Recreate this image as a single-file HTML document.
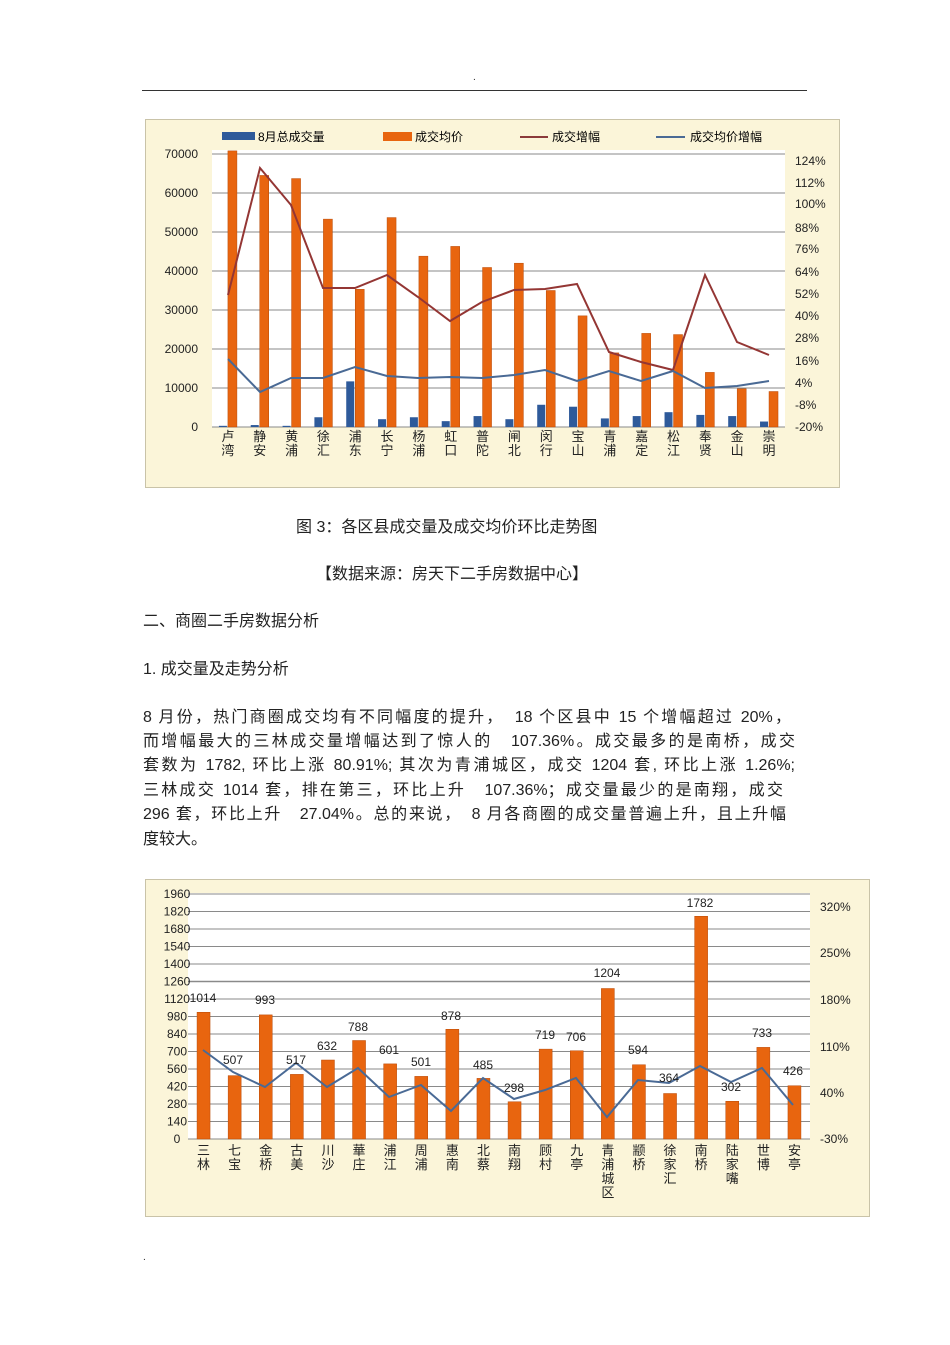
<!DOCTYPE html>
<html><head><meta charset="utf-8"><style>
body{margin:0;background:#fff;}
#p{position:relative;width:950px;height:1345px;overflow:hidden;font-family:"Liberation Sans","Noto Sans CJK SC",sans-serif;color:#222;}
.t{position:absolute;font-size:16px;white-space:nowrap;}
.j{position:absolute;left:143px;width:648px;font-size:16px;text-align:justify;text-align-last:justify;white-space:nowrap;}
svg text{font-family:"Liberation Sans","Noto Sans CJK SC",sans-serif;}
</style></head><body><div id="p">
<div class="t" style="left:473px;top:72px;font-size:10px">.</div>
<div style="position:absolute;left:142px;top:90px;width:665px;height:1px;background:#333"></div>

<svg style="position:absolute;left:0;top:0" width="950" height="1345">
<rect x="145.5" y="119.5" width="694" height="368" fill="#fbf5d9" stroke="#c9c3a8"/>
<rect x="212" y="150" width="573" height="277" fill="#fff"/>
<g stroke="#8a8a8a" stroke-width="1">
<line x1="212" x2="785" y1="154" y2="154"/><line x1="212" x2="785" y1="193" y2="193"/>
<line x1="212" x2="785" y1="232" y2="232"/><line x1="212" x2="785" y1="271" y2="271"/>
<line x1="212" x2="785" y1="310" y2="310"/><line x1="212" x2="785" y1="349" y2="349"/>
<line x1="212" x2="785" y1="388" y2="388"/><line x1="212" x2="785" y1="427" y2="427"/>
</g>
<g font-size="12" fill="#222" text-anchor="end">
<text x="198" y="158">70000</text><text x="198" y="197">60000</text><text x="198" y="236">50000</text>
<text x="198" y="275">40000</text><text x="198" y="314">30000</text><text x="198" y="353">20000</text>
<text x="198" y="392">10000</text><text x="198" y="431">0</text>
</g>
<g font-size="12" fill="#222">
<text x="795" y="165">124%</text><text x="795" y="187">112%</text><text x="795" y="208">100%</text>
<text x="795" y="232">88%</text><text x="795" y="253">76%</text><text x="795" y="276">64%</text>
<text x="795" y="298">52%</text><text x="795" y="320">40%</text><text x="795" y="342">28%</text>
<text x="795" y="365">16%</text><text x="795" y="387">4%</text><text x="795" y="409">-8%</text>
<text x="795" y="431">-20%</text>
</g>
<rect x="222" y="132" width="33" height="8" fill="#2e5a9a"/><text x="258" y="141" font-size="12">8月总成交量</text>
<rect x="383" y="132" width="29" height="9" fill="#e8650f"/><text x="415" y="141" font-size="12">成交均价</text>
<line x1="520" x2="548" y1="137" y2="137" stroke="#8b3a3a" stroke-width="2"/><text x="552" y="141" font-size="12">成交增幅</text>
<line x1="656" x2="685" y1="137" y2="137" stroke="#4a6a95" stroke-width="2"/><text x="690" y="141" font-size="12">成交均价增幅</text>
<g id="b1"></g>
<polyline fill="none" stroke="#943634" stroke-width="2" points="228,295 260,168 291,205 323,288 355,288 387,275 418,297 450,321 482,302 514,290 545,289 577,284 609,352 641,362 673,370 705,275 737,342 769,355"/>
<polyline fill="none" stroke="#4a6a95" stroke-width="2" points="228,359 260,392 291,378 323,378 355,367 387,376 418,378 450,377 482,378 514,375 545,370 577,381 609,371 641,381 673,371 705,388 737,386 769,381"/>
<g id="l1" font-size="13" fill="#222" text-anchor="middle"></g>

<rect x="145.5" y="879.5" width="724" height="337" fill="#fbf5d9" stroke="#c9c3a8"/>
<rect x="188" y="893" width="622" height="246" fill="#fff"/>
<g id="g2" stroke="#8a8a8a"></g>
<g id="b2"></g>
<polyline fill="none" stroke="#4a6a95" stroke-width="2" points="203,1050 233,1072 265,1087 296,1063 327,1087 358,1068 389,1097 421,1085 451,1111 483,1078 514,1099 545,1090 576,1078 607,1117 638,1080 669,1083 700,1066 731,1082 762,1068 793,1105"/>
<g font-size="12" fill="#222">
<text x="820" y="911">320%</text><text x="820" y="957">250%</text><text x="820" y="1004">180%</text>
<text x="820" y="1051">110%</text><text x="820" y="1097">40%</text><text x="820" y="1143">-30%</text>
</g>
<g id="l2" font-size="13" fill="#222" text-anchor="middle"></g>
</svg>

<div class="t" style="left:296px;top:513px">图 3：各区县成交量及成交均价环比走势图</div>
<div class="t" style="left:316px;top:560px">【数据来源：房天下二手房数据中心】</div>
<div class="t" style="left:143px;top:607px">二、商圈二手房数据分析</div>
<div class="t" style="left:143px;top:655px">1. 成交量及走势分析</div>
<div class="j" style="top:703px">8 月份，热门商圈成交均有不同幅度的提升，　18 个区县中 15 个增幅超过 20%，</div>
<div class="j" style="top:727px;width:652px">而增幅最大的三林成交量增幅达到了惊人的　107.36%。成交最多的是南桥，成交</div>
<div class="j" style="top:751px;width:652px">套数为 1782, 环比上涨 80.91%; 其次为青浦城区，成交 1204 套, 环比上涨 1.26%;</div>
<div class="j" style="top:776px;width:640px">三林成交 1014 套，排在第三，环比上升　107.36%；成交量最少的是南翔，成交</div>
<div class="j" style="top:800px;width:643px">296 套，环比上升　27.04%。总的来说，　8 月各商圈的成交量普遍上升，且上升幅</div>
<div class="t" style="left:143px;top:825px">度较大。</div>
<div class="t" style="left:143px;top:1252px;font-size:10px">.</div>
</div>
<script>
var NS="http://www.w3.org/2000/svg";
function el(p,t,a,txt){var e=document.createElementNS(NS,t);for(var k in a)e.setAttribute(k,a[k]);if(txt!=null)e.textContent=txt;document.getElementById(p).appendChild(e);}
var n1=["卢湾","静安","黄浦","徐汇","浦东","长宁","杨浦","虹口","普陀","闸北","闵行","宝山","青浦","嘉定","松江","奉贤","金山","崇明"];
var o1=[70800,64500,63700,53300,35300,53700,43800,46300,40900,42000,35000,28500,19000,24000,23700,14000,9800,9100];
var u1=[300,500,300,2500,11700,2000,2500,1500,2800,2000,5700,5200,2200,2800,3800,3100,2800,1400];
for(var i=0;i<18;i++){var c=212+31.83*(i+0.5);
var h=Math.min(o1[i]*0.0039,277);el("b1","rect",{x:c,y:427-h,width:9,height:h,fill:"#e8650f",stroke:"#b84a08","stroke-width":0.5});
var hb=u1[i]*0.0039;el("b1","rect",{x:c-9,y:427-hb,width:8,height:hb,fill:"#2e5a9a"});
el("l1","text",{x:c,y:441},n1[i][0]);el("l1","text",{x:c,y:455},n1[i][1]);}
for(var k=0;k<=14;k++){var y=1139-k*17.5;el("g2","line",{x1:188,x2:810,y1:y,y2:y,"stroke-width":k==9?1.6:1});
el("l2","text",{x:177,y:y+4,"font-size":12},String(k*140));}
var n2=["三林","七宝","金桥","古美","川沙","華庄","浦江","周浦","惠南","北蔡","南翔","顾村","九亭","青浦城区","颛桥","徐家汇","南桥","陆家嘴","世博","安亭"];
var v2=[1014,507,993,517,632,788,601,501,878,485,298,719,706,1204,594,364,1782,302,733,426];
var lx=[203,233,265,296,327,358,389,421,451,483,514,545,576,607,638,669,700,731,762,793];
var ly=[1002,1064,1004,1064,1050,1031,1054,1066,1020,1069,1092,1039,1041,977,1054,1082,907,1091,1037,1075];
for(var i=0;i<20;i++){var c=188+31.1*(i+0.5);var h=v2[i]*0.125;
el("b2","rect",{x:c-6.5,y:1139-h,width:13,height:h,fill:"#e8650f",stroke:"#b84a08","stroke-width":0.5});
el("l2","text",{x:lx[i],y:ly[i],"font-size":12},String(v2[i]));
for(var j=0;j<n2[i].length;j++)el("l2","text",{x:c,y:1155+j*14},n2[i][j]);}
</script>
</body></html>
